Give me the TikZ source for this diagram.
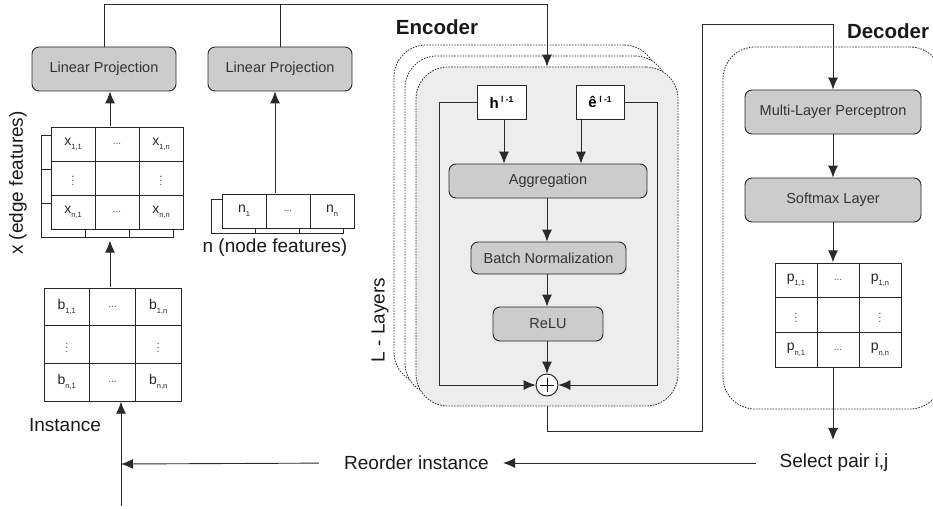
\documentclass[tikz,border=0pt]{standalone}
\usepackage{fontspec}
\setmainfont{Liberation Sans}
\usetikzlibrary{arrows.meta,matrix,calc}
\definecolor{boxfill}{HTML}{CCCCCC}
\definecolor{encfill}{HTML}{EDEDED}
\definecolor{txtgray}{HTML}{333333}
\definecolor{linegray}{HTML}{2A2A2A}
\newcommand\sbs[1]{\raisebox{-0.55ex}{\fontsize{7.5}{8}\selectfont #1}}
\newcommand\sps[1]{\raisebox{0.75ex}{\fontsize{8.5}{9}\selectfont\bfseries #1}}
\newcommand\hdots{{\fontsize{10}{10}\selectfont\color{black!70}...}}
\newcommand\vdts{{\fontsize{11}{11}\selectfont\color{black!70}$\vdots$}}
\begin{document}
\begin{tikzpicture}[x=1pt,y=-1pt,
  proc/.style={draw=black!85, fill=boxfill, rounded corners=7pt, line width=0.9pt,
    text=txtgray, font=\fontsize{14.5}{16}\selectfont, inner sep=0pt},
  arr/.style={draw=linegray, line width=0.9pt, -{Latex[length=12pt,width=10pt]}},
  conn/.style={draw=linegray, line width=0.9pt},
  lbl/.style={font=\fontsize{19}{22}\selectfont, inner sep=0pt, text=black!90},
  hdr/.style={font=\bfseries\fontsize{20.5}{24}\selectfont, inner sep=0pt, text=black!90},
  layer/.style={draw=black!80, dash pattern=on 1.6pt off 1.2pt, line width=0.8pt,
    rounded corners=32pt, minimum width=262pt, minimum height=339pt, inner sep=0pt},
  cell/.style={draw=black!85, fill=white, line width=0.9pt, anchor=center, inner sep=0pt,
    font=\fontsize{14}{16}\selectfont, text=black!85},
  grid/.style={matrix of nodes, nodes in empty cells, inner sep=0pt,
    column sep=-0.9pt, row sep=-0.9pt, nodes={cell}},
  inbox/.style={draw=black!85, fill=white, line width=0.9pt, inner sep=0pt,
    minimum height=34pt, font=\bfseries\fontsize{15}{16}\selectfont},
]
\useasboundingbox (0,0) rectangle (933,508);
\clip (0,0) rectangle (933,508);

% ---------- left: instance and features ----------
\coordinate (ax) at (110,0);
\coordinate (an) at (275,0);
\coordinate (topc) at (547,4);

\node[proc, minimum width=144pt, minimum height=44pt] (lp1) at (104,69) {Linear Projection};
\node[proc, minimum width=144pt, minimum height=44pt] (lp2) at (280,69) {Linear Projection};

\matrix[grid, nodes={minimum width=44pt, minimum height=34pt}] (xback) at (107,186)
  {  &  &  \\  &  &  \\  &  &  \\};
\matrix[grid, nodes={minimum width=44pt, minimum height=34pt}] (xm) at (117,178)
  { x\sbs{1,1} & \hdots & x\sbs{1,n} \\
    \vdts      &        & \vdts \\
    x\sbs{n,1} & \hdots & x\sbs{n,n} \\};

\matrix[grid, nodes={minimum width=44pt, minimum height=34pt}] (nback) at (277,216)
  {  &  &  \\};
\matrix[grid, nodes={minimum width=44pt, minimum height=34pt}] (nm) at (288,211)
  { n\sbs{1} & \hdots & n\sbs{n} \\};

\matrix[grid, nodes={minimum width=45.7pt, minimum height=37.7pt}] (bm) at (112.5,344.5)
  { b\sbs{1,1} & \hdots & b\sbs{1,n} \\
    \vdts      &        & \vdts \\
    b\sbs{n,1} & \hdots & b\sbs{n,n} \\};

\node[lbl, rotate=90] (xlab) at (18,183) {x (edge features)};
\node[lbl] (nlab) at (275,248) {n (node features)};
\node[lbl] (inst) at (65,425) {Instance};

\draw[arr] (xm.north -| ax) -- (lp1.south -| ax);
\draw[arr] (nm.north -| an) -- (lp2.south -| an);
\draw[arr] (bm.north -| ax) -- ($(xback.south -| ax)+(0,3)$);

% ---------- encoder ----------
\node[hdr] (enclab) at (437,27) {Encoder};
\node[layer, fill=white] (enc3) at (525,214.5) {};
\node[layer, fill=white] (enc2) at (536,225.5) {};
\node[layer, fill=encfill] (enc) at (547,236.5) {};
\node[lbl, rotate=90] (llab) at (380,320) {L - Layers};

\node[inbox, minimum width=49pt] (hb) at (501.5,102) {h\,\sps{l -1}};
\node[inbox, minimum width=48pt] (eb) at (600,102) {\^e\,\sps{l -1}};
\node[proc, minimum width=198pt, minimum height=34pt] (agg) at (548,181) {Aggregation};
\node[proc, minimum width=155pt, minimum height=32pt] (bn) at (548.5,258) {Batch Normalization};
\node[proc, minimum width=110pt, minimum height=34pt] (relu) at (548,324) {ReLU};
\node[circle, draw=black!90, fill=white, line width=0.9pt, minimum size=22pt, inner sep=0pt] (sum) at (547,385) {};
\draw[line width=1pt] ($(sum.center)+(-7,0)$) -- ($(sum.center)+(7,0)$)
                      ($(sum.center)+(0,-7)$) -- ($(sum.center)+(0,7)$);

\coordinate (hx) at (504,0);
\coordinate (ex) at (581,0);
\coordinate (sl) at (439,0);
\coordinate (sr) at (657,0);
\draw[arr] (hb.south -| hx) -- (agg.north -| hx);
\draw[arr] (eb.south -| ex) -- (agg.north -| ex);
\draw[arr] (agg.south -| sum) -- (bn.north -| sum);
\draw[arr] (bn.south -| sum) -- (relu.north -| sum);
\draw[arr] (relu.south -| sum) -- (sum.north);
\draw[arr] (hb.west) -| (sl |- sum) -- (sum.west);
\draw[arr] (eb.east) -| (sr |- sum) -- (sum.east);

% top feed into encoder
\draw[arr] (lp1.north) |- (topc) -- (enc.north -| topc);
\draw[conn] (lp2.north) -- (lp2.north |- topc);

% ---------- decoder ----------
\node[hdr] (declab) at (888,31) {Decoder};
\node[draw=black!80, dash pattern=on 1.6pt off 1.2pt, line width=0.8pt, rounded corners=32pt,
  minimum width=219pt, minimum height=362pt, inner sep=0pt] (dec) at (832.5,228) {};
\node[proc, minimum width=176pt, minimum height=44pt] (mlp) at (833,112) {Multi-Layer Perceptron};
\node[proc, minimum width=176pt, minimum height=44pt] (soft) at (833,200) {Softmax Layer};
\matrix[grid, nodes={minimum width=42pt, minimum height=34.7pt}] (pm) at (838,315)
  { p\sbs{1,1} & \hdots & p\sbs{1,n} \\
    \vdts      &        & \vdts \\
    p\sbs{n,1} & \hdots & p\sbs{n,n} \\};

\draw[arr] (mlp.south) -- (soft.north);
\draw[arr] (soft.south) -- (soft.south |- pm.north);

% encoder -> decoder
\coordinate (c1) at (702,431);
\coordinate (c2) at (702,24);
\draw[arr] (enc.south) |- (c1) -- (c2) -| (mlp.north);

% ---------- bottom loop ----------
\node[lbl] (sel) at (834,463) {Select pair i,j};
\node[lbl] (reo) at (416.5,463) {Reorder instance};
\coordinate (c3) at (121,464);
\coordinate (c4) at (121,506);
\draw[arr] (pm.south -| mlp) -- ($(sel.north -| mlp)+(0,-14)$);
\draw[arr, shorten <=23pt, shorten >=14pt] (sel.west) -- (reo.east);
\draw[arr, shorten <=25pt] (reo.west) -- (c3);
\draw[arr] (c4) -- (c4 |- bm.south);
\end{tikzpicture}
\end{document}
